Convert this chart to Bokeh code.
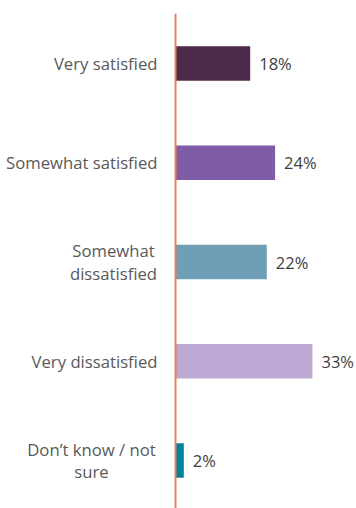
from bokeh.plotting import figure
from bokeh.models import Range1d, Span, ColumnDataSource
from bokeh.core.properties import value
from bokeh.embed import file_html
from bokeh.resources import INLINE

categories = ["Very satisfied", "Somewhat satisfied", "Somewhat\ndissatisfied",
              "Very dissatisfied", "Don\u2019t know / not\nsure"]
values = [18, 24, 22, 33, 2]
labels = ["18%", "24%", "22%", "33%", "2%"]
colors = ["#4E2A4A", "#7F5CA6", "#6F9FB7", "#BDA9D3", "#00839B"]

# single-line labels are right-aligned; two-line labels are centred blocks
cat_align = ["right", "right", "center", "right", "center"]
cat_offset = [-18, -18, -62, -18, -84]

ypos = list(range(len(categories)))
src = ColumnDataSource(dict(y=ypos, v=values, cat=categories, lab=labels, c=colors,
                            al=cat_align, off=cat_offset))

W, H = 356, 508
top_border = 13
px_per_unit = 99.25
px_per_pct = 4.15
zero_px = 175
y_end = -50 / px_per_unit
y_start = (H - top_border) / px_per_unit + y_end

p = figure(width=W, height=H, output_backend="svg", toolbar_location=None,
           x_range=Range1d(-zero_px / px_per_pct, (W - zero_px) / px_per_pct),
           y_range=Range1d(y_start, y_end),
           min_border_left=0, min_border_right=0, min_border_top=top_border,
           min_border_bottom=0)
p.axis.visible = False
p.grid.visible = False
p.outline_line_color = None

p.hbar(y="y", left=0, right="v", height=0.35, fill_color="c",
       line_color=None, source=src)
p.add_layout(Span(location=0, dimension="height", line_color="#EA8254",
                  line_width=2))

p.text(x=0, y="y", text="cat", source=src, x_offset="off", text_align="al",
       text_baseline="middle", text_font=value("Open Sans"),
       text_font_size="16.7px", text_color="#595959", text_line_height=0.97)
p.text(x="v", y="y", text="lab", source=src, x_offset=9, text_align="left",
       text_baseline="middle", text_font=value("Open Sans"),
       text_font_size="16.5px", text_color="#404040")

open("out.html", "w").write(file_html(p, INLINE))
